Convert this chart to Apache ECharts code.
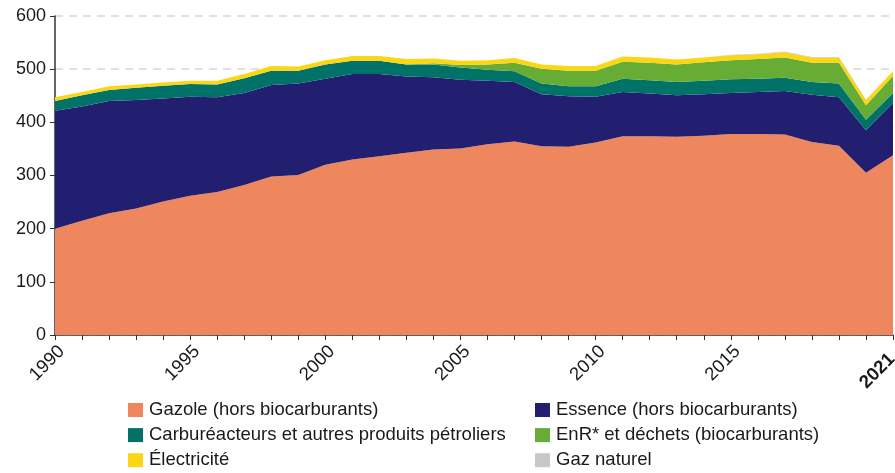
<!DOCTYPE html>
<html>
<head>
<meta charset="utf-8">
<script src="https://cdn.jsdelivr.net/npm/echarts@6/dist/echarts.min.js"></script>
<style>
html, body { margin: 0; padding: 0; background: #fff; }
#chart { width: 895px; height: 473px; }
</style>
</head>
<body>
<div id="chart"></div>
<script>
// ==========================================
// DATA
// ==========================================
const years = [];
for (let y = 1990; y <= 2021; y++) years.push(String(y));

const gazole = [200, 215, 229, 238, 251, 262, 269, 282, 298, 301, 320, 330, 336, 343, 349, 351,
  359, 364, 355, 354, 362, 374, 374, 373, 375, 378, 378, 377, 363, 356, 305, 338];
const essence = [222, 215, 211, 204, 194, 186, 178, 173, 172, 172, 162, 161, 155, 143, 136, 129,
  119, 112, 98, 95, 86, 83, 80, 78, 78, 77, 79, 82, 89, 91, 80, 99];
const carbureacteurs = [18, 21, 21, 23, 24, 24, 24, 28, 27, 24, 27, 25, 25, 23, 24, 23,
  21, 20, 20, 19, 20, 25, 25, 25, 25, 26, 25, 25, 24, 26, 20, 18];
const enr = [0, 0, 0, 0, 0, 0, 0, 0, 0, 0, 0, 0, 0, 0, 2, 5,
  10, 16, 28, 29, 29, 32, 33, 33, 35, 36, 37, 38, 36, 39, 27, 32];
const electricite = [7, 6, 7, 6, 6, 6, 7, 8, 9, 8, 8, 9, 9, 10, 9, 8,
  8, 9, 8, 9, 9, 10, 10, 9, 9, 9, 9, 10, 10, 10, 10, 9];
const gazNaturel = [0, 0, 0, 0, 0, 0, 0, 0, 0, 0, 0, 0, 0, 0, 0, 0,
  0, 0, 0, 0, 0, 0, 0, 0, 0, 1, 1, 1, 1, 1, 1, 1];

const yTicks = [0, 100, 200, 300, 400, 500, 600];
const shownYears = ['1990', '1995', '2000', '2005', '2010', '2015', '2021'];

// legend layout: [name, column, row]
const legendItems = [
  ['Gazole (hors biocarburants)', 0, 0],
  ['Essence (hors biocarburants)', 1, 0],
  ['Carburéacteurs et autres produits pétroliers', 0, 1],
  ['EnR* et déchets (biocarburants)', 1, 1],
  ['Électricité', 0, 2],
  ['Gaz naturel', 1, 2]
];

// ==========================================
// CHART
// ==========================================
const FONT = "'Liberation Sans', Arial, sans-serif";
const chart = echarts.init(document.getElementById('chart'), null, { renderer: 'canvas' });

function area(name, data, color) {
  return {
    name: name,
    type: 'line',
    stack: 'total',
    data: data,
    symbol: 'none',
    lineStyle: { width: 0 },
    areaStyle: { color: color, opacity: 1 },
    itemStyle: { color: color },
    emphasis: { disabled: true }
  };
}

const legendCols = [128, 535];
const legends = legendItems.map(([name, col, row]) => ({
  left: legendCols[col],
  top: 400 + row * 25.1,
  padding: 0,
  itemWidth: 15,
  itemHeight: 14,
  itemGap: 0,
  icon: 'rect',
  selectedMode: false,
  textStyle: { color: '#1a1a1a', fontSize: 18.5, lineHeight: 20, fontFamily: FONT, padding: [0, 0, 0, 1] },
  data: [name]
}));

const option = {
  backgroundColor: '#fff',
  animation: false,
  grid: { left: 55, right: 2, top: 16, bottom: 138, outerBoundsMode: 'none' },
  legend: legends,
  xAxis: {
    type: 'category',
    data: years,
    boundaryGap: false,
    axisLine: { lineStyle: { color: '#333', width: 1.5 } },
    axisTick: { interval: 0, length: 5, lineStyle: { color: '#333' } },
    axisLabel: {
      rotate: 45,
      margin: 7,
      verticalAlign: 'top',
      color: '#1a1a1a',
      fontSize: 18.5,
      fontFamily: FONT,
      interval: (i, v) => shownYears.includes(v),
      formatter: v => v === '2021' ? '{b|' + v + '}' : v,
      rich: { b: { fontWeight: 'bold', fontSize: 18.5, fontFamily: FONT, color: '#1a1a1a', padding: [0, 11, 0, 0] } }
    },
    splitLine: { show: false }
  },
  yAxis: {
    type: 'value',
    min: yTicks[0],
    max: yTicks[yTicks.length - 1],
    interval: 100,
    axisLine: { show: true, lineStyle: { color: '#333', width: 1.5 } },
    axisTick: { show: true, length: 5, lineStyle: { color: '#333' } },
    axisLabel: { color: '#1a1a1a', fontSize: 18, fontFamily: FONT, margin: 9 },
    splitLine: { show: true, lineStyle: { color: '#d6d6d6', type: [8, 6], width: 1.5 } }
  },
  series: [
    area('Gazole (hors biocarburants)', gazole, '#EE875E'),
    area('Essence (hors biocarburants)', essence, '#231F70'),
    area('Carburéacteurs et autres produits pétroliers', carbureacteurs, '#007268'),
    area('EnR* et déchets (biocarburants)', enr, '#67AD35'),
    area('Électricité', electricite, '#FAD614'),
    area('Gaz naturel', gazNaturel, '#C8C8CC')
  ]
};

chart.setOption(option);
window.addEventListener('resize', () => chart.resize());
</script>
</body>
</html>
